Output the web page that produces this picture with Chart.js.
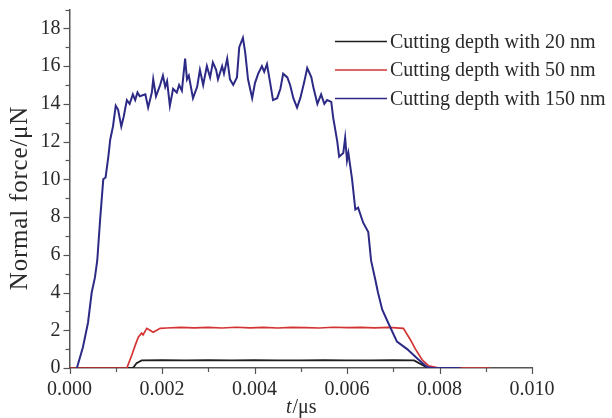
<!DOCTYPE html>
<html><head><meta charset="utf-8">
<script src="https://cdn.jsdelivr.net/npm/chart.js@4.4.0/dist/chart.umd.min.js"></script>
<style>html,body{margin:0;padding:0;background:#fff}#wrap{width:612px;height:418px;position:relative}</style>
</head><body><div id="wrap"><canvas id="c"></canvas></div>
<script>
// ---- data ----
const seriesNames = ['Cutting depth with 20 nm', 'Cutting depth with 50 nm', 'Cutting depth with 150 nm'];

const t20 = [0, 0.00137, 0.00145, 0.00156, 0.0020, 0.0025, 0.0030, 0.0035, 0.0040, 0.0045, 0.0050, 0.0055, 0.0060, 0.0065, 0.0070, 0.00745, 0.00775, 0.0085];
const f20 = [0, 0, 0.25, 0.40, 0.41, 0.40, 0.41, 0.40, 0.41, 0.40, 0.40, 0.41, 0.40, 0.40, 0.41, 0.40, 0, 0];

const t50 = [0, 0.00124, 0.00135, 0.00142, 0.00149, 0.00156, 0.00159, 0.00167, 0.00174, 0.00181, 0.00196, 0.0021, 0.0024, 0.0027, 0.0030, 0.0033, 0.0036, 0.0039, 0.0042, 0.0045, 0.0048, 0.0051, 0.0054, 0.0057, 0.0060, 0.0063, 0.0066, 0.0069, 0.00722, 0.00737, 0.00748, 0.00762, 0.00776, 0.0080, 0.0091];
const f50 = [0, 0, 0.7, 1.2, 1.65, 1.85, 1.75, 2.1, 2.0, 1.9, 2.1, 2.12, 2.15, 2.13, 2.15, 2.12, 2.16, 2.13, 2.15, 2.12, 2.15, 2.14, 2.12, 2.16, 2.14, 2.15, 2.13, 2.15, 2.1, 1.5, 1.0, 0.45, 0.12, 0, 0];

const t150 = [0.00016, 0.00029, 0.0004, 0.00048, 0.00055, 0.0006, 0.00066, 0.00073, 0.00078, 0.00084, 0.00088, 0.00094, 0.0010, 0.00105, 0.00112, 0.00117, 0.00124, 0.0013, 0.00137, 0.00142, 0.00147, 0.00152, 0.00164, 0.0017, 0.00178, 0.00181, 0.00187, 0.00196, 0.00202, 0.00207, 0.00211, 0.00217, 0.00224, 0.00232, 0.00237, 0.00243, 0.0025, 0.00254, 0.00258, 0.00267, 0.00276, 0.00282, 0.00289, 0.00297, 0.00304, 0.0031, 0.00317, 0.00321, 0.0033, 0.00334, 0.00341, 0.00347, 0.00354, 0.00362, 0.00367, 0.00375, 0.0038, 0.00386, 0.00395, 0.00401, 0.00408, 0.00416, 0.00421, 0.00427, 0.00434, 0.0044, 0.00449, 0.00456, 0.00462, 0.00471, 0.00477, 0.00484, 0.00492, 0.00499, 0.00507, 0.00514, 0.00523, 0.00527, 0.00536, 0.00544, 0.00551, 0.00557, 0.00566, 0.0057, 0.00579, 0.00583, 0.00592, 0.00596, 0.0060, 0.00603, 0.00607, 0.00611, 0.00618, 0.00624, 0.00635, 0.00646, 0.00652, 0.00661, 0.00667, 0.00676, 0.00689, 0.00708, 0.0073, 0.00752, 0.00773, 0.00784, 0.00845];
const f150 = [0, 1.1, 2.4, 4.0, 4.8, 5.7, 7.8, 10.0, 10.1, 11.2, 12.1, 12.8, 13.9, 13.7, 12.8, 13.3, 14.2, 14.0, 14.5, 14.2, 14.6, 14.4, 14.5, 13.8, 14.6, 15.3, 14.4, 15.0, 15.5, 14.9, 15.2, 13.9, 14.8, 14.6, 15.0, 14.7, 16.4, 15.3, 15.5, 14.3, 14.9, 15.8, 15.0, 16.0, 15.4, 16.2, 15.8, 15.3, 16.0, 15.6, 16.4, 15.3, 15.0, 15.4, 17.0, 17.5, 16.7, 15.3, 14.3, 15.1, 15.6, 16.0, 15.7, 16.1, 15.1, 14.2, 14.3, 14.8, 15.6, 15.4, 15.0, 14.3, 13.8, 14.3, 15.1, 15.9, 15.4, 14.9, 14.0, 14.5, 14.0, 14.2, 14.1, 13.3, 12.0, 11.2, 11.4, 12.2, 11.0, 11.4, 10.7, 10.0, 8.4, 8.5, 7.7, 7.2, 5.7, 4.7, 4.0, 3.1, 2.4, 1.4, 1.0, 0.5, 0.05, 0, 0];

const xTickValues = [0, 0.001, 0.002, 0.003, 0.004, 0.005, 0.006, 0.007, 0.008, 0.009, 0.010];
const yTickValues = [0, 1, 2, 3, 4, 5, 6, 7, 8, 9, 10, 11, 12, 13, 14, 15, 16, 17, 18, 19];
const yTitle = 'Normal force/\u03bcN';
const xTitleItalic = 't';
const xTitleRest = '/\u03bcs';

// ---- styles ----
const FONT = '"Liberation Serif", "Times New Roman", serif';
const TXT = '#2a2a2a';
const AXIS = '#555';
const colors = ['#1e1e1e', '#d43333', '#2d2a86'];
const widths = [1.8, 1.7, 2.0];

const pts = (t, f) => t.map((x, i) => ({x: x, y: f[i]}));

const tickPlugin = {
  id: 'minorTicks',
  afterDraw(chart) {
    const ctx = chart.ctx, xs = chart.scales.x, ys = chart.scales.y, ca = chart.chartArea;
    ctx.save();
    ctx.strokeStyle = AXIS; ctx.lineWidth = 1.2;
    xTickValues.forEach((v, i) => {
      const px = Math.round(xs.getPixelForValue(v)) + 0.5;
      const len = i % 2 === 0 ? 6 : 4;
      ctx.beginPath(); ctx.moveTo(px, ca.bottom); ctx.lineTo(px, ca.bottom + len); ctx.stroke();
    });
    yTickValues.forEach((v, i) => {
      const py = Math.round(ys.getPixelForValue(v)) + 0.5;
      const len = i % 2 === 0 ? 6 : 4;
      ctx.beginPath(); ctx.moveTo(ca.left, py); ctx.lineTo(ca.left - len, py); ctx.stroke();
    });
    // x title with italic t
    ctx.fillStyle = TXT;
    ctx.textBaseline = 'alphabetic';
    ctx.font = 'italic 20px ' + FONT;
    const w1 = ctx.measureText(xTitleItalic).width;
    ctx.font = '20px ' + FONT;
    const w2 = ctx.measureText(xTitleRest).width;
    const cx = (ca.left + ca.right) / 2;
    let sx = cx - (w1 + w2) / 2;
    ctx.font = 'italic 20px ' + FONT;
    ctx.fillText(xTitleItalic, sx, 413);
    ctx.font = '20px ' + FONT;
    ctx.fillText(xTitleRest, sx + w1 + 1, 413);
    // y title (rotated)
    ctx.save();
    ctx.translate(20, 198);
    ctx.rotate(-Math.PI / 2);
    ctx.font = '25px ' + FONT;
    if ('letterSpacing' in ctx) ctx.letterSpacing = '0.8px';
    ctx.textAlign = 'center'; ctx.textBaseline = 'middle';
    ctx.fillText(yTitle, 0, 0);
    ctx.restore();
    // legend
    chart.data.datasets.forEach((ds, i) => {
      const y = 41.5 + i * 28.5;
      ctx.strokeStyle = ds.borderColor; ctx.lineWidth = 1.7;
      ctx.beginPath(); ctx.moveTo(335, y); ctx.lineTo(387, y); ctx.stroke();
      ctx.fillStyle = TXT; ctx.textBaseline = 'middle'; ctx.textAlign = 'left';
      ctx.font = '20px ' + FONT;
      ctx.fillText(ds.label, 390, y + 1);
    });
    ctx.restore();
  }
};

new Chart(document.getElementById('c'), {
  type: 'line',
  data: {
    datasets: [
      {label: seriesNames[0], data: pts(t20, f20), borderColor: colors[0], borderWidth: widths[0], order: 2},
      {label: seriesNames[1], data: pts(t50, f50), borderColor: colors[1], borderWidth: widths[1], order: 1},
      {label: seriesNames[2], data: pts(t150, f150), borderColor: colors[2], borderWidth: widths[2], order: 0}
    ]
  },
  options: {
    animation: false, responsive: true, maintainAspectRatio: false,
    elements: {point: {radius: 0}, line: {tension: 0, fill: false}},
    layout: {padding: {left: 0, right: 80, top: 9.5, bottom: 0}},
    plugins: {legend: {display: false}, tooltip: {enabled: false}},
    scales: {
      x: {
        type: 'linear', min: 0, max: 0.010,
        afterBuildTicks: s => { s.ticks = xTickValues.map(v => ({value: v})); },
        afterFit: s => { s.height = 50; s.paddingLeft = 0; s.paddingRight = 0; },
        grid: {display: true, drawOnChartArea: false, drawTicks: false},
        border: {display: true, color: AXIS, width: 1.5},
        ticks: {autoSkip: false, maxRotation: 0, padding: 10, color: TXT, font: {family: FONT, size: 20},
          callback: (v, i) => (i % 2 === 0 ? xTickValues[i].toFixed(3) : '')}
      },
      y: {
        type: 'linear', min: 0, max: 19,
        afterBuildTicks: s => { s.ticks = yTickValues.map(v => ({value: v})); },
        afterFit: s => { s.width = 69.5; s.paddingTop = 0; s.paddingBottom = 0; },
        grid: {display: true, drawOnChartArea: false, drawTicks: false},
        border: {display: true, color: AXIS, width: 1.5},
        title: {display: false, text: yTitle},
        ticks: {autoSkip: false, padding: 9, color: TXT, font: {family: FONT, size: 20},
          callback: (v, i) => (i % 2 === 0 ? String(yTickValues[i]) : '')}
      }
    }
  },
  plugins: [tickPlugin]
});
</script>
</body></html>
